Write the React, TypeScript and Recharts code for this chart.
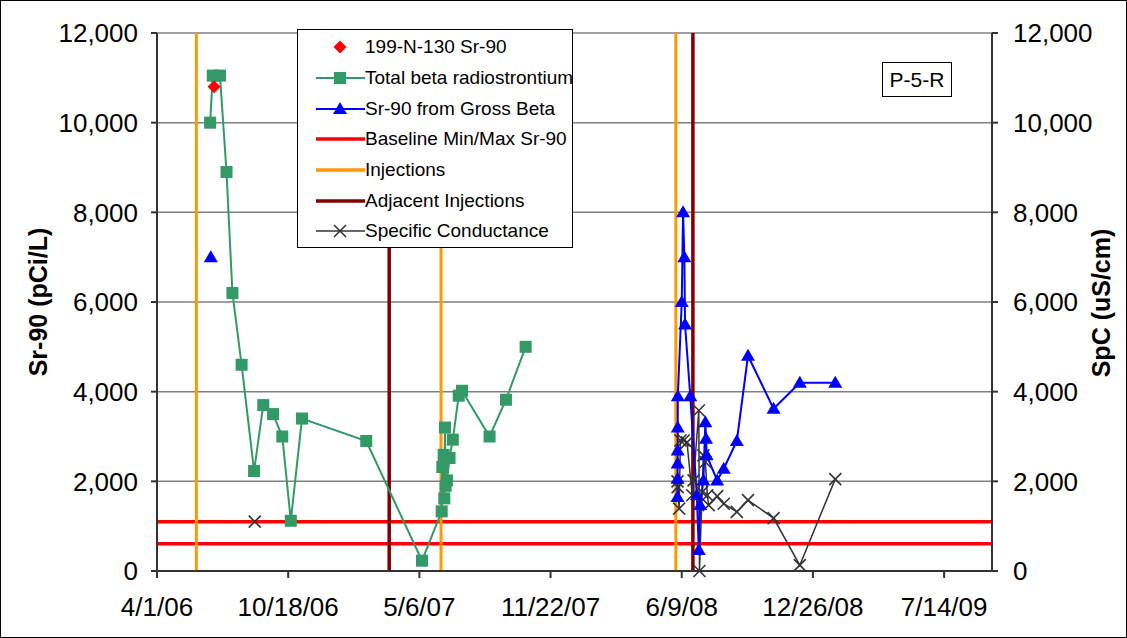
import React from "react";
import {
  ComposedChart,
  Line,
  XAxis,
  YAxis,
  CartesianGrid,
  ReferenceLine,
} from "recharts";

// dates are Excel serial day numbers (38808 = 4/1/06)
const xTicks = [38808, 39008, 39208, 39408, 39608, 39808, 40008];
const yTicks = [0, 2000, 4000, 6000, 8000, 10000, 12000];

const n130Dates = [38895];
const n130Values = [10800];

const betaDates = [
  38889, 38893, 38904, 38914, 38923, 38937, 38956, 38970, 38985, 38999, 39012,
  39029, 39127, 39212, 39242, 39243, 39245, 39246, 39247, 39248, 39250, 39254,
  39259, 39268, 39273, 39315, 39340, 39370,
];
const betaValues = [
  10000, 11050, 11050, 8900, 6200, 4600, 2230, 3700, 3500, 3000, 1120, 3400,
  2900, 230, 1330, 2320, 2590, 1620, 3200, 1900, 2020, 2520, 2930, 3910, 4020,
  3000, 3820, 5000,
];

const grossDates = [
  38890, 38900, 39601.5, 39601.6, 39601.7, 39601.8, 39601.9, 39602, 39608,
  39610, 39612, 39613, 39621, 39631, 39634, 39636, 39641, 39644, 39645, 39646,
  39662, 39672, 39692, 39709, 39748, 39788, 39842,
];
const grossValues = [
  7000, null, 1650, 2060, 2400, 2690, 3200, 3900, 6000, 8000, 7000, 5500, 3900,
  1690, 470, 1470, 2020, 3320, 2950, 2580, 2020, 2280, 2900, 4800, 3620, 4200,
  4200,
];

const spcDates = [
  38957, 39000, 39601.5, 39601.8, 39604, 39606, 39611, 39616, 39624, 39626,
  39634, 39635, 39639, 39641, 39644, 39647, 39649, 39662, 39672, 39692, 39709,
  39748, 39788, 39842,
];
const spcValues = [
  1100, null, 2000, 1870, 1390, 2910, 2910, 2870, 1690, 2020, 3580, 0, 1760,
  2580, 2430, 1690, 1470, 1670, 1500, 1320, 1580, 1180, 130, 2050,
];

const baselineValues = [610, 1100];
const injectionDates = [38868, 39241, 39599];
const adjacentDates = [39162, 39625];

const zip = (xs: number[], ys: (number | null)[]) =>
  xs.map((x, i) => ({ x, y: ys[i] }));

const EXCEL_EPOCH = Date.UTC(1899, 11, 30);
const fmtDate = (v: number) => {
  const d = new Date(EXCEL_EPOCH + v * 86400000);
  return `${d.getUTCMonth() + 1}/${d.getUTCDate()}/${String(
    d.getUTCFullYear()
  ).slice(2)}`;
};
const fmtNum = (v: number) => v.toLocaleString("en-US");

const GREEN = "#339966";
const BLUE = "#0000FF";
const RED = "#FF0000";
const ORANGE = "#FF9900";
const MAROON = "#800000";
const SPC = "#333333";
const FONT = "'Liberation Sans', Arial, sans-serif";

const squareDot = (props: any) => {
  const { cx, cy, index } = props;
  if (cx == null || cy == null) return <g key={index} />;
  return (
    <rect key={index} x={cx - 6} y={cy - 6} width={12} height={12} fill={GREEN} />
  );
};

const triangleDot = (props: any) => {
  const { cx, cy, index } = props;
  if (cx == null || cy == null) return <g key={index} />;
  return (
    <polygon
      key={index}
      points={`${cx},${cy - 7} ${cx + 7},${cy + 5} ${cx - 7},${cy + 5}`}
      fill={BLUE}
    />
  );
};

const diamondDot = (props: any) => {
  const { cx, cy, index } = props;
  if (cx == null || cy == null) return <g key={index} />;
  return (
    <polygon
      key={index}
      points={`${cx},${cy - 6.5} ${cx + 6.5},${cy} ${cx},${cy + 6.5} ${cx - 6.5},${cy}`}
      fill={RED}
    />
  );
};

const crossDot = (props: any) => {
  const { cx, cy, index } = props;
  if (cx == null || cy == null) return <g key={index} />;
  return (
    <g key={index} stroke={SPC} strokeWidth={1.6}>
      <line x1={cx - 6} y1={cy - 6} x2={cx + 6} y2={cy + 6} />
      <line x1={cx - 6} y1={cy + 6} x2={cx + 6} y2={cy - 6} />
    </g>
  );
};

const legendItems = [
  { label: "199-N-130 Sr-90", color: RED, line: false, mark: "diamond", w: 0 },
  { label: "Total beta radiostrontium", color: GREEN, line: true, mark: "square", w: 2 },
  { label: "Sr-90 from Gross Beta", color: BLUE, line: true, mark: "triangle", w: 2 },
  { label: "Baseline Min/Max Sr-90", color: RED, line: true, mark: "", w: 3.5 },
  { label: "Injections", color: ORANGE, line: true, mark: "", w: 3.5 },
  { label: "Adjacent Injections", color: MAROON, line: true, mark: "", w: 3.5 },
  { label: "Specific Conductance", color: SPC, line: true, mark: "cross", w: 1.5 },
];

function LegendIcon({ item }: { item: (typeof legendItems)[number] }) {
  const cx = 42;
  const cy = 15;
  const p = { cx, cy, index: 0 };
  return (
    <svg width={70} height={30} style={{ flex: "none" }}>
      {item.line && (
        <line x1={18} y1={cy} x2={67} y2={cy} stroke={item.color} strokeWidth={item.w} />
      )}
      {item.mark === "diamond" && diamondDot(p)}
      {item.mark === "square" && squareDot(p)}
      {item.mark === "triangle" && triangleDot(p)}
      {item.mark === "cross" && crossDot(p)}
    </svg>
  );
}

export default function App() {
  return (
    <div
      style={{
        position: "relative",
        width: 1127,
        height: 638,
        fontFamily: FONT,
        background: "#fff",
        boxSizing: "border-box",
        overflow: "hidden",
      }}
    >
      <style>{`body{margin:0}`}</style>
      <ComposedChart
        width={1127}
        height={638}
        margin={{ top: 33, right: 0, bottom: 0, left: 0 }}
        style={{ fontFamily: FONT }}
      >
        <CartesianGrid vertical={false} stroke="#808080" strokeWidth={1.5} yAxisId="left" />
        <XAxis
          dataKey="x"
          type="number"
          domain={[38808, 40081]}
          ticks={xTicks}
          tickFormatter={fmtDate}
          allowDataOverflow
          height={67}
          stroke="#333"
          strokeWidth={2}
          tickSize={7}
          tickMargin={20}
          tick={{ fontSize: 26, fill: "#000" }}
        />
        <YAxis
          yAxisId="left"
          domain={[0, 12000]}
          ticks={yTicks}
          tickFormatter={fmtNum}
          width={157}
          stroke="#333"
          strokeWidth={2}
          tickSize={6}
          tickMargin={13}
          tick={{ fontSize: 26, fill: "#000" }}
        />
        <YAxis
          yAxisId="right"
          orientation="right"
          domain={[0, 12000]}
          ticks={yTicks}
          tickFormatter={fmtNum}
          width={135}
          stroke="#333"
          strokeWidth={2}
          tickSize={6}
          tickMargin={15}
          tick={{ fontSize: 26, fill: "#000" }}
        />
        {baselineValues.map((v) => (
          <ReferenceLine key={`b${v}`} yAxisId="left" y={v} stroke={RED} strokeWidth={3.5} />
        ))}
        {injectionDates.map((d) => (
          <ReferenceLine key={`i${d}`} yAxisId="left" x={d} stroke={ORANGE} strokeWidth={3} />
        ))}
        {adjacentDates.map((d) => (
          <ReferenceLine key={`a${d}`} yAxisId="left" x={d} stroke={MAROON} strokeWidth={3.5} />
        ))}
        <Line
          yAxisId="right"
          data={zip(spcDates, spcValues)}
          dataKey="y"
          stroke={SPC}
          strokeWidth={1.5}
          dot={crossDot}
          isAnimationActive={false}
          connectNulls={false}
        />
        <Line
          yAxisId="left"
          data={zip(betaDates, betaValues)}
          dataKey="y"
          stroke={GREEN}
          strokeWidth={2}
          dot={squareDot}
          isAnimationActive={false}
        />
        <Line
          yAxisId="left"
          data={zip(grossDates, grossValues)}
          dataKey="y"
          stroke={BLUE}
          strokeWidth={2}
          dot={triangleDot}
          isAnimationActive={false}
          connectNulls={false}
        />
        <Line
          yAxisId="left"
          data={zip(n130Dates, n130Values)}
          dataKey="y"
          stroke="none"
          dot={diamondDot}
          isAnimationActive={false}
        />
      </ComposedChart>

      <div
        style={{
          position: "absolute",
          left: 297,
          top: 29,
          width: 276,
          height: 219,
          border: "1px solid #000",
          background: "#fff",
          boxSizing: "border-box",
          paddingTop: 2,
        }}
      >
        {legendItems.map((item) => (
          <div
            key={item.label}
            style={{ display: "flex", alignItems: "center", height: 30.7, fontSize: 19 }}
          >
            <LegendIcon item={item} />
            <span style={{ whiteSpace: "nowrap", marginLeft: -3 }}>{item.label}</span>
          </div>
        ))}
      </div>

      <div
        style={{
          position: "absolute",
          left: 882,
          top: 62,
          width: 70,
          height: 35,
          border: "1px solid #000",
          background: "#fff",
          boxSizing: "border-box",
          fontSize: 21,
          display: "flex",
          alignItems: "center",
          justifyContent: "center",
        }}
      >
        P-5-R
      </div>

      <div
        style={{
          position: "absolute",
          left: 38,
          top: 302,
          transform: "translate(-50%, -50%) rotate(-90deg)",
          fontSize: 25,
          fontWeight: "bold",
          whiteSpace: "nowrap",
        }}
      >
        Sr-90 (pCi/L)
      </div>
      <div
        style={{
          position: "absolute",
          left: 1101,
          top: 303,
          transform: "translate(-50%, -50%) rotate(-90deg)",
          fontSize: 25,
          fontWeight: "bold",
          whiteSpace: "nowrap",
        }}
      >
        SpC (uS/cm)
      </div>

      <div
        style={{
          position: "absolute",
          inset: 0,
          border: "1px solid #000",
          pointerEvents: "none",
        }}
      />
    </div>
  );
}
